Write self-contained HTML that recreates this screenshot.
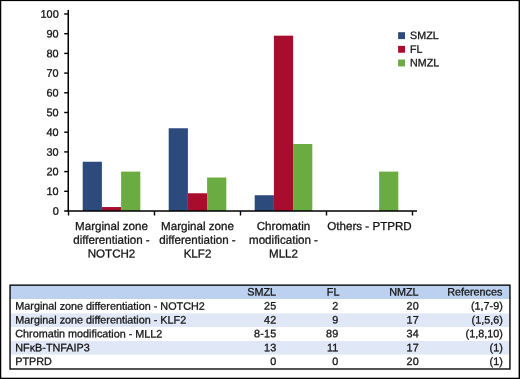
<!DOCTYPE html>
<html>
<head>
<meta charset="utf-8">
<title>Figure</title>
<style>
html,body{margin:0;padding:0;background:#fff;}
body{width:520px;height:379px;overflow:hidden;}
svg{display:block;will-change:transform;}
text{font-family:"Liberation Sans",sans-serif;fill:#151515;stroke:#151515;stroke-width:0.3px;}
.ax{font-size:10.9px;text-anchor:end;}
.cat{font-size:11.6px;text-anchor:middle;}
.lg{font-size:10.7px;}
.tb{font-size:10.8px;}
.r{text-anchor:end;letter-spacing:0.25px;}
.rr{text-anchor:end;}
</style>
</head>
<body>
<svg width="520" height="379" viewBox="0 0 520 379">
<rect x="0" y="0" width="520" height="379" fill="#fff"/>
<rect x="0" y="0" width="520" height="1.1" fill="#000"/>
<rect x="0" y="0" width="1.25" height="379" fill="#000"/>
<rect x="518.6" y="0" width="1.4" height="379" fill="#000"/>
<rect x="0" y="377.7" width="520" height="1.3" fill="#000"/>

<rect x="82.70" y="161.75" width="19.20" height="49.25" fill="#2c4a7c"/>
<rect x="101.90" y="207.06" width="19.20" height="3.94" fill="#a80d2d"/>
<rect x="121.10" y="171.60" width="19.20" height="39.40" fill="#6aab42"/>
<rect x="168.70" y="128.26" width="19.20" height="82.74" fill="#2c4a7c"/>
<rect x="187.90" y="193.27" width="19.20" height="17.73" fill="#a80d2d"/>
<rect x="207.10" y="177.51" width="19.20" height="33.49" fill="#6aab42"/>
<rect x="254.70" y="195.24" width="19.20" height="15.76" fill="#2c4a7c"/>
<rect x="273.90" y="35.67" width="19.20" height="175.33" fill="#a80d2d"/>
<rect x="293.10" y="144.02" width="19.20" height="66.98" fill="#6aab42"/>
<rect x="379.10" y="171.60" width="19.20" height="39.40" fill="#6aab42"/>
<g fill="#000">
<rect x="67.5" y="10" width="1.5" height="201.75"/>
<rect x="64.2" y="210.25" width="352.80" height="1.5"/>
<rect x="64.2" y="190.60" width="4" height="1.4"/>
<rect x="64.2" y="170.90" width="4" height="1.4"/>
<rect x="64.2" y="151.20" width="4" height="1.4"/>
<rect x="64.2" y="131.50" width="4" height="1.4"/>
<rect x="64.2" y="111.80" width="4" height="1.4"/>
<rect x="64.2" y="92.10" width="4" height="1.4"/>
<rect x="64.2" y="72.40" width="4" height="1.4"/>
<rect x="64.2" y="52.70" width="4" height="1.4"/>
<rect x="64.2" y="33.00" width="4" height="1.4"/>
<rect x="64.2" y="13.30" width="4" height="1.4"/>
<rect x="67.80" y="211.00" width="1.4" height="4.5"/>
<rect x="153.80" y="211.00" width="1.4" height="4.5"/>
<rect x="239.80" y="211.00" width="1.4" height="4.5"/>
<rect x="325.80" y="211.00" width="1.4" height="4.5"/>
<rect x="411.80" y="211.00" width="1.4" height="4.5"/>
</g>
<g class="ax">
<text x="58.70" y="214.75" transform="rotate(0.05 58.70 214.75)">0</text>
<text x="58.70" y="195.05" transform="rotate(0.05 58.70 195.05)">10</text>
<text x="58.70" y="175.35" transform="rotate(0.05 58.70 175.35)">20</text>
<text x="58.70" y="155.65" transform="rotate(0.05 58.70 155.65)">30</text>
<text x="58.70" y="135.95" transform="rotate(0.05 58.70 135.95)">40</text>
<text x="58.70" y="116.25" transform="rotate(0.05 58.70 116.25)">50</text>
<text x="58.70" y="96.55" transform="rotate(0.05 58.70 96.55)">60</text>
<text x="58.70" y="76.85" transform="rotate(0.05 58.70 76.85)">70</text>
<text x="58.70" y="57.15" transform="rotate(0.05 58.70 57.15)">80</text>
<text x="58.70" y="37.45" transform="rotate(0.05 58.70 37.45)">90</text>
<text x="58.70" y="17.75" transform="rotate(0.05 58.70 17.75)">100</text>
</g>
<g class="cat">
<text x="111.50" y="230.00" transform="rotate(0.05 111.50 230.00)">Marginal zone</text>
<text x="111.50" y="243.70" transform="rotate(0.05 111.50 243.70)">differentiation -</text>
<text x="111.50" y="257.40" transform="rotate(0.05 111.50 257.40)">NOTCH2</text>
<text x="197.50" y="230.00" transform="rotate(0.05 197.50 230.00)">Marginal zone</text>
<text x="197.50" y="243.70" transform="rotate(0.05 197.50 243.70)">differentiation -</text>
<text x="197.50" y="257.40" transform="rotate(0.05 197.50 257.40)">KLF2</text>
<text x="283.50" y="230.00" transform="rotate(0.05 283.50 230.00)">Chromatin</text>
<text x="283.50" y="243.70" transform="rotate(0.05 283.50 243.70)">modification -</text>
<text x="283.50" y="257.40" transform="rotate(0.05 283.50 257.40)">MLL2</text>
<text x="369.50" y="230.00" transform="rotate(0.05 369.50 230.00)">Others - PTPRD</text>
</g>
<rect x="398.1" y="32.20" width="6.9" height="6.9" fill="#2c4a7c"/>
<text class="lg" x="410.10" y="39.00" transform="rotate(0.05 410.10 39.00)">SMZL</text>
<rect x="398.1" y="45.85" width="6.9" height="6.9" fill="#a80d2d"/>
<text class="lg" x="410.10" y="52.65" transform="rotate(0.05 410.10 52.65)">FL</text>
<rect x="398.1" y="59.50" width="6.9" height="6.9" fill="#6aab42"/>
<text class="lg" x="410.10" y="66.30" transform="rotate(0.05 410.10 66.30)">NMZL</text>
<rect x="10" y="285.1" width="500" height="13.9" fill="#bcd0ef"/>
<rect x="10" y="313.4" width="500" height="13.7" fill="#e0e7f6"/>
<rect x="10" y="340.9" width="500" height="13.7" fill="#e0e7f6"/>
<rect x="10.05" y="285.15" width="499.9" height="83.85" fill="none" stroke="#0a0a0a" stroke-width="1.4"/>
<g class="tb">
<text x="247.20" y="295.50" transform="rotate(0.05 247.20 295.50)">SMZL</text>
<text x="326.80" y="295.50" transform="rotate(0.05 326.80 295.50)">FL</text>
<text x="389.20" y="295.50" transform="rotate(0.05 389.20 295.50)">NMZL</text>
<text x="447.20" y="295.50" transform="rotate(0.05 447.20 295.50)">References</text>
<text x="15.30" y="309.60" transform="rotate(0.05 15.30 309.60)">Marginal zone differentiation - NOTCH2</text>
<text class="r" x="276.50" y="309.60" transform="rotate(0.05 276.50 309.60)">25</text>
<text class="r" x="338.60" y="309.60" transform="rotate(0.05 338.60 309.60)">2</text>
<text class="r" x="418.90" y="309.60" transform="rotate(0.05 418.90 309.60)">20</text>
<text class="rr" x="502.80" y="309.60" transform="rotate(0.05 502.80 309.60)">(1,7-9)</text>
<text x="15.30" y="323.45" transform="rotate(0.05 15.30 323.45)">Marginal zone differentiation - KLF2</text>
<text class="r" x="276.50" y="323.45" transform="rotate(0.05 276.50 323.45)">42</text>
<text class="r" x="338.60" y="323.45" transform="rotate(0.05 338.60 323.45)">9</text>
<text class="r" x="418.90" y="323.45" transform="rotate(0.05 418.90 323.45)">17</text>
<text class="rr" x="502.80" y="323.45" transform="rotate(0.05 502.80 323.45)">(1,5,6)</text>
<text x="15.30" y="337.30" transform="rotate(0.05 15.30 337.30)">Chromatin modification - MLL2</text>
<text class="r" x="276.50" y="337.30" transform="rotate(0.05 276.50 337.30)">8-15</text>
<text class="r" x="338.60" y="337.30" transform="rotate(0.05 338.60 337.30)">89</text>
<text class="r" x="418.90" y="337.30" transform="rotate(0.05 418.90 337.30)">34</text>
<text class="rr" x="502.80" y="337.30" transform="rotate(0.05 502.80 337.30)">(1,8,10)</text>
<text x="15.30" y="351.15" transform="rotate(0.05 15.30 351.15)">NFκB-TNFAIP3</text>
<text class="r" x="276.50" y="351.15" transform="rotate(0.05 276.50 351.15)">13</text>
<text class="r" x="338.60" y="351.15" transform="rotate(0.05 338.60 351.15)">11</text>
<text class="r" x="418.90" y="351.15" transform="rotate(0.05 418.90 351.15)">17</text>
<text class="rr" x="502.80" y="351.15" transform="rotate(0.05 502.80 351.15)">(1)</text>
<text x="15.30" y="365.00" transform="rotate(0.05 15.30 365.00)">PTPRD</text>
<text class="r" x="276.50" y="365.00" transform="rotate(0.05 276.50 365.00)">0</text>
<text class="r" x="338.60" y="365.00" transform="rotate(0.05 338.60 365.00)">0</text>
<text class="r" x="418.90" y="365.00" transform="rotate(0.05 418.90 365.00)">20</text>
<text class="rr" x="502.80" y="365.00" transform="rotate(0.05 502.80 365.00)">(1)</text>
</g>
</svg>
</body>
</html>
